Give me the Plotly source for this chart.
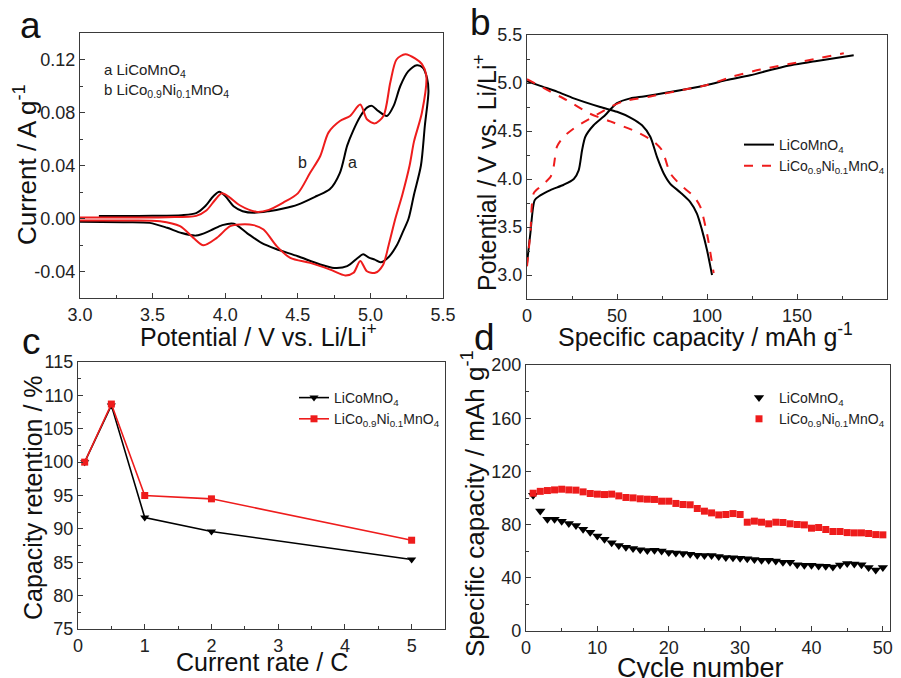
import plotly.graph_objects as go

# ---------------- data ----------------
# (a) cyclic voltammetry
cv_a_x = [3.13, 3.3, 3.5, 3.7, 3.8, 3.86, 3.92, 3.96, 4.0, 4.06, 4.12, 4.2, 4.3, 4.4, 4.5, 4.63,
          4.72, 4.79, 4.84, 4.88, 4.93, 4.976, 5.01, 5.056, 5.114, 5.16, 5.206, 5.26, 5.32, 5.36,
          5.39, 5.40,
          5.375, 5.348, 5.30, 5.263, 5.22, 5.183, 5.126, 5.07, 5.03, 4.99, 4.95, 4.91, 4.84,
          4.75, 4.65, 4.5, 4.35, 4.25, 4.15, 4.06, 3.98, 3.9, 3.8, 3.7, 3.6, 3.48, 3.3, 3.0]
cv_a_y = [0.0018, 0.0018, 0.002, 0.0025, 0.004, 0.009, 0.017, 0.0202, 0.017, 0.009, 0.0055, 0.0043,
          0.0055, 0.0075, 0.0105, 0.017, 0.022, 0.0345, 0.055, 0.066, 0.077, 0.0837, 0.085, 0.081,
          0.0774, 0.085, 0.100, 0.111, 0.1157, 0.114, 0.106, 0.096,
          0.07, 0.04, 0.018, 0.0, -0.011, -0.02, -0.029, -0.033, -0.031, -0.0295, -0.027, -0.03,
          -0.036, -0.0373, -0.0345, -0.0285, -0.023, -0.0184, -0.011, -0.004, -0.005, -0.009,
          -0.0129, -0.011, -0.007, -0.0033, -0.0028, -0.0025]

cv_b_x = [3.0, 3.3, 3.6, 3.8, 3.87, 3.93, 3.977, 4.03, 4.1, 4.218, 4.3, 4.4, 4.5, 4.585, 4.654,
          4.712, 4.79, 4.86, 4.93, 4.976, 5.03, 5.09, 5.137, 5.18, 5.24, 5.31, 5.355, 5.385,
          5.355, 5.30, 5.27, 5.22, 5.172, 5.126, 5.087, 5.033, 4.976, 4.93, 4.884, 4.827, 4.723,
          4.585, 4.448, 4.356, 4.264, 4.195, 4.103, 4.034, 3.942, 3.85, 3.781, 3.689, 3.551,
          3.3, 3.0]
cv_b_y = [0.0008, 0.0008, 0.001, 0.002, 0.006, 0.014, 0.019, 0.016, 0.010, 0.005, 0.0065,
          0.012, 0.019, 0.0345, 0.047, 0.065, 0.0736, 0.0774, 0.086, 0.0749, 0.0718, 0.0774,
          0.1026, 0.12, 0.124, 0.1207, 0.1165, 0.108,
          0.08, 0.058, 0.04, 0.018, 0.0, -0.02, -0.035, -0.041, -0.0398, -0.032, -0.041, -0.043,
          -0.0386, -0.0335, -0.0297, -0.021, -0.0083, -0.005, -0.0045, -0.0058, -0.0146,
          -0.0202, -0.0146, -0.0058, -0.002, -0.0015, -0.0015]

# (b) charge / discharge profiles
chg_a_x = [0, 1.85, 4.3, 7.4, 13, 20.4, 26, 28.7, 30.6, 32.4, 37, 42.6, 50, 57.4, 64.8, 77.8,
           100, 111, 124, 142.6, 161, 181.5]
chg_a_y = [3.12, 3.43, 3.78, 3.83, 3.885, 3.94, 4.0, 4.09, 4.30, 4.44, 4.56, 4.65, 4.79, 4.84,
           4.86, 4.90, 4.98, 5.03, 5.08, 5.17, 5.23, 5.29]
dis_a_x = [0, 7.4, 16.7, 26, 40.7, 50, 57.4, 63.9, 68.5, 72.2, 75.9, 79.6, 85.2, 90.7, 94.4,
           97.2, 100, 102.8]
dis_a_y = [5.02, 4.97, 4.91, 4.84, 4.75, 4.70, 4.64, 4.56, 4.44, 4.23, 4.06, 3.95, 3.86, 3.76,
           3.64, 3.47, 3.26, 3.0]
chg_b_x = [0, 1.85, 3.7, 7.4, 13, 14.8, 16.7, 20.4, 27.8, 37, 46.3, 53.7, 68.5, 87, 100,
           114.8, 129.6, 151.9, 176]
chg_b_y = [3.09, 3.43, 3.85, 3.92, 4.02, 4.13, 4.34, 4.44, 4.55, 4.65, 4.75, 4.81, 4.86, 4.93,
           4.98, 5.07, 5.14, 5.22, 5.31]
dis_b_x = [0, 13, 22.2, 35, 46.3, 61, 70.4, 75, 79.6, 85.2, 92.6, 96.3, 100, 103.7]
dis_b_y = [5.04, 4.91, 4.82, 4.68, 4.60, 4.49, 4.39, 4.30, 4.06, 3.94, 3.82, 3.71, 3.43, 3.02]

# (c) rate capability
rate_x = [0.1, 0.5, 1, 2, 5]
ret_a = [100, 108.5, 91.7, 89.6, 85.4]
ret_b = [100, 108.7, 95.0, 94.5, 88.3]

# (d) cycling
cycles = list(range(1, 51))
cap_a = [102.1, 90.3, 84.1, 84.1, 82.6, 80.8, 79.3, 76.5, 74.3, 71.5, 69.0, 66.3, 64.2, 63.0,
         62.0, 61.0, 60.5, 60.7, 60.2, 59.0, 58.7, 58.2, 57.7, 57.0, 56.7, 56.7, 56.0, 55.2,
         55.0, 54.7, 54.4, 53.7, 53.2, 53.2, 52.7, 51.7, 51.7, 49.9, 49.4, 49.4, 48.9, 48.7,
         48.2, 49.7, 50.7, 50.4, 49.9, 47.7, 45.9, 47.7]
cap_b = [103.6, 105.0, 105.6, 106.1, 106.6, 106.1, 105.9, 104.6, 103.4, 102.9, 102.6, 102.9,
         101.6, 100.4, 100.1, 99.4, 99.1, 98.9, 97.6, 97.6, 95.9, 95.1, 94.9, 92.1, 90.1, 88.8,
         87.3, 87.6, 88.3, 87.6, 81.8, 82.6, 81.8, 80.6, 81.8, 81.6, 80.6, 80.1, 79.8, 77.3,
         77.8, 76.3, 74.8, 74.8, 74.0, 73.8, 73.8, 73.3, 72.5, 72.3]

name_a = "LiCoMnO<sub>4</sub>"
name_b = "LiCo<sub>0.9</sub>Ni<sub>0.1</sub>MnO<sub>4</sub>"

cv_yticks = [-0.04, 0.0, 0.04, 0.08, 0.12]
cv_yticktext = ["-0.04", "0.00", "0.04", "0.08", "0.12"]

# ---------------- styling ----------------
W, H = 901, 678
FONT = "Arial, 'Liberation Sans', Helvetica, sans-serif"
RED = "#ee1c1c"
BLACK = "#000000"
FRAME = "#3a3a3a"


def px(x):
    return x / W


def py(y):
    return 1 - y / H


fig = go.Figure()

# (a)
fig.add_trace(go.Scatter(x=cv_a_x, y=cv_a_y, mode="lines", line=dict(color=BLACK, width=2, shape="spline", smoothing=0.8),
                         showlegend=False, xaxis="x", yaxis="y"))
fig.add_trace(go.Scatter(x=cv_b_x, y=cv_b_y, mode="lines", line=dict(color=RED, width=2, shape="spline", smoothing=0.8),
                         showlegend=False, xaxis="x", yaxis="y"))

# (b)
fig.add_trace(go.Scatter(x=chg_a_x, y=chg_a_y, mode="lines", name=name_a,
                         line=dict(color=BLACK, width=2, shape="spline", smoothing=0.7),
                         legend="legend", legendgroup="ba", xaxis="x2", yaxis="y2"))
fig.add_trace(go.Scatter(x=dis_a_x, y=dis_a_y, mode="lines", name=name_a, showlegend=False,
                         line=dict(color=BLACK, width=2, shape="spline", smoothing=0.7),
                         legendgroup="ba", xaxis="x2", yaxis="y2"))
fig.add_trace(go.Scatter(x=chg_b_x, y=chg_b_y, mode="lines", name=name_b,
                         line=dict(color=RED, width=2, dash="dash", shape="spline", smoothing=0.7),
                         legend="legend", legendgroup="bb", xaxis="x2", yaxis="y2"))
fig.add_trace(go.Scatter(x=dis_b_x, y=dis_b_y, mode="lines", name=name_b, showlegend=False,
                         line=dict(color=RED, width=2, dash="dash", shape="spline", smoothing=0.7),
                         legendgroup="bb", xaxis="x2", yaxis="y2"))

# (c)
fig.add_trace(go.Scatter(x=rate_x, y=ret_a, mode="lines+markers", name=name_a,
                         line=dict(color=BLACK, width=1.6),
                         marker=dict(symbol="triangle-down", size=8, color=BLACK),
                         legend="legend2", xaxis="x3", yaxis="y3"))
fig.add_trace(go.Scatter(x=rate_x, y=ret_b, mode="lines+markers", name=name_b,
                         line=dict(color=RED, width=1.6),
                         marker=dict(symbol="square", size=7, color=RED),
                         legend="legend2", xaxis="x3", yaxis="y3"))

# (d)
fig.add_trace(go.Scatter(x=cycles, y=cap_a, mode="markers", name=name_a,
                         marker=dict(symbol="triangle-down", size=9, color=BLACK),
                         legend="legend3", xaxis="x4", yaxis="y4"))
fig.add_trace(go.Scatter(x=cycles, y=cap_b, mode="markers", name=name_b,
                         marker=dict(symbol="square", size=7, color=RED),
                         legend="legend3", xaxis="x4", yaxis="y4"))

tickfont = dict(family=FONT, size=18, color="#222222")


def axis(domain, rng, anchor, dtick=None, minor_dtick=None, **kw):
    d = dict(domain=domain, range=rng, anchor=anchor, showgrid=False, zeroline=False,
             showline=True, linecolor=FRAME, linewidth=1.4, mirror=True, automargin=False,
             ticks="inside", ticklen=5, tickwidth=1.2, tickcolor=FRAME,
             tickfont=tickfont)
    if dtick is not None:
        d["dtick"] = dtick
    if minor_dtick is not None:
        d["minor"] = dict(dtick=minor_dtick, ticks="inside", ticklen=3, tickwidth=1, tickcolor=FRAME)
    d.update(kw)
    return d


legfont = dict(family=FONT, size=14, color="#222222")
layout = dict(
    width=W, height=H, margin=dict(l=0, r=0, t=0, b=0, pad=0), autosize=False,
    paper_bgcolor="white", plot_bgcolor="white",
    font=dict(family=FONT, color="#111111"),
    xaxis=axis([px(80), px(443)], [3.0, 5.5], "y", dtick=0.5, minor_dtick=0.25, tickformat=".1f", tick0=3.0),
    yaxis=axis([py(298), py(33)], [-0.06, 0.14], "x", tickvals=cv_yticks, ticktext=cv_yticktext,
               minor=dict(tickvals=[-0.06, -0.02, 0.02, 0.06, 0.10, 0.14], ticks="inside", ticklen=3,
                          tickwidth=1, tickcolor=FRAME)),
    xaxis2=axis([px(527), px(887)], [0, 200], "y2", dtick=50, minor_dtick=25),
    yaxis2=axis([py(299), py(35)], [2.75, 5.5], "x2", dtick=0.5, minor_dtick=0.25, tickformat=".1f", tick0=3.0),
    xaxis3=axis([px(78), px(445)], [0, 5.5], "y3", dtick=1, minor_dtick=0.5),
    yaxis3=axis([py(629), py(362)], [75, 115], "x3", dtick=5, minor_dtick=2.5),
    xaxis4=axis([px(526), px(890)], [0, 51], "y4", dtick=10, minor_dtick=5),
    yaxis4=axis([py(631), py(365)], [0, 200], "x4", dtick=40, minor_dtick=20),
    legend=dict(x=px(739), y=py(129), xanchor="left", yanchor="top", bgcolor="rgba(0,0,0,0)",
                font=legfont, tracegroupgap=0, itemwidth=30),
    legend2=dict(x=px(294), y=py(382), xanchor="left", yanchor="top", bgcolor="rgba(0,0,0,0)",
                 font=legfont, itemwidth=30),
    legend3=dict(x=px(739), y=py(382), xanchor="left", yanchor="top", bgcolor="rgba(0,0,0,0)",
                 font=legfont, itemwidth=30),
)
fig.update_layout(**layout)

ann = []


def text(x, y, s, size, angle=0, xanchor="center", color="#111111"):
    ann.append(dict(x=px(x), y=py(y), xref="paper", yref="paper", text=s, showarrow=False,
                    font=dict(family=FONT, size=size, color=color), textangle=angle,
                    xanchor=xanchor, yanchor="middle"))


# panel letters
text(30, 26, "a", 37)
text(481, 23, "b", 37)
text(31, 341, "c", 37)
text(484, 337, "d", 37)

# axis titles
text(258, 335, "Potential / V vs. Li/Li<sup>+</sup>", 25)
text(705, 335, "Specific capacity / mAh g<sup>-1</sup>", 25)
text(262, 662, "Current rate / C", 25)
text(700, 668, "Cycle number", 27)
text(25, 165, "Current / A g<sup>-1</sup>", 26, angle=-90)
text(485, 173, "Potential / V vs. Li/Li<sup>+</sup>", 25, angle=-90)
text(33, 498, "Capacity retention / %", 25, angle=-90)
text(473, 503, "Specific capacity / mAh g<sup>-1</sup>", 26, angle=-90)

# panel (a) key
text(102, 70, "a " + name_a, 15, xanchor="left", color="#222222")
text(102, 91, "b " + name_b, 15, xanchor="left", color="#222222")
fig.update_layout(annotations=ann)
fig.add_annotation(x=4.53, y=0.042, xref="x", yref="y", text="b", showarrow=False,
                   font=dict(family=FONT, size=16, color="#222222"))
fig.add_annotation(x=4.88, y=0.042, xref="x", yref="y", text="a", showarrow=False,
                   font=dict(family=FONT, size=16, color="#222222"))

fig.write_html("out.html", config={"displayModeBar": False},
               post_script="document.body.style.margin='0px';document.body.style.overflow='hidden';")
